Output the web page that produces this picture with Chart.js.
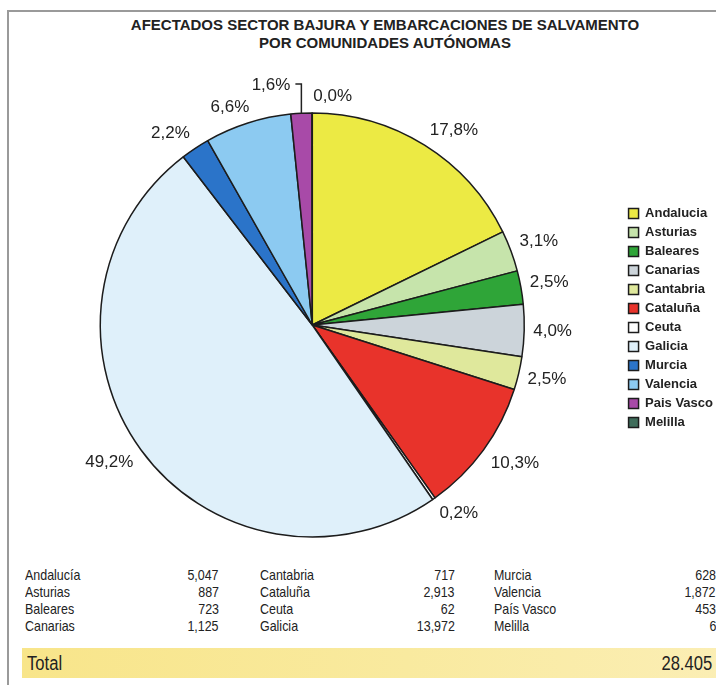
<!DOCTYPE html>
<html>
<head>
<meta charset="utf-8">
<script src="https://cdn.jsdelivr.net/npm/chart.js@4/dist/chart.umd.min.js"></script>
<style>
  html, body { margin: 0; padding: 0; overflow: hidden; background: #fff; }
  #page { position: relative; width: 716px; height: 685px; overflow: hidden; color: #222; }
  #frame { position: absolute; left: 7px; top: 10px; width: 760px; height: 720px;
           border-top: 2px solid #9a9a9a; border-left: 2px solid #9a9a9a; }
  #title { position: absolute; left: 0; top: 16px; width: 770px; text-align: center;
           font: bold 15px "Liberation Sans", Arial, sans-serif; line-height: 18px; }
  #grafico { position: absolute; left: 0; top: 0; }
  .col { position: absolute; top: 566px; font: 15px "Liberation Sans", Arial, sans-serif; line-height: 17px; }
  .fila { position: relative; height: 17px; }
  .n, .v { display: inline-block; transform: scaleX(0.83); white-space: nowrap; }
  .n { position: absolute; left: 0; top: 0; transform-origin: left center; }
  .v { position: absolute; right: 0; top: 0; transform-origin: right center; }
  #total { position: absolute; left: 22px; top: 648px; width: 700px; height: 30px;
           background: linear-gradient(to right, #f8e58a, #f9ea9f 55%, #fbeeb4);
           font: 20px "Liberation Sans", Arial, sans-serif; line-height: 30px; }
  #total .n { left: 5px; }
  #total .v { right: 10px; }
</style>
</head>
<body>
<div id="page">
  <div id="frame"></div>
  <div id="title">AFECTADOS SECTOR BAJURA Y EMBARCACIONES DE SALVAMENTO<br>POR COMUNIDADES AUTÓNOMAS</div>
  <canvas id="grafico" width="723" height="548"></canvas>
  <div id="tabla"></div>
  <div id="total"><span class="n">Total</span><span class="v" id="totalValor"></span></div>
</div>
<script>
const categorias = ["Andalucía", "Asturias", "Baleares", "Canarias", "Cantabria", "Cataluña",
  "Ceuta", "Galicia", "Murcia", "Valencia", "País Vasco", "Melilla"];
const nombresLeyenda = ["Andalucia", "Asturias", "Baleares", "Canarias", "Cantabria", "Cataluña",
  "Ceuta", "Galicia", "Murcia", "Valencia", "Pais Vasco", "Melilla"];
const afectados = [5047, 887, 723, 1125, 717, 2913, 62, 13972, 628, 1872, 453, 6];
const colores = ["#ecea44", "#c6e4ab", "#2fa538", "#ccd4da", "#dfe89c", "#e8332b",
  "#ffffff", "#dff0fa", "#2b74c9", "#8ccaf1", "#a84aa8", "#3f6d5b"];

const total = afectados.reduce((a, b) => a + b, 0);

// tabla inferior: tres columnas de cuatro filas
const columnas = [
  { left: 25, width: 194 },
  { left: 260, width: 195 },
  { left: 494, width: 222 }
];
const tabla = document.getElementById("tabla");
columnas.forEach((c, k) => {
  const col = document.createElement("div");
  col.className = "col";
  col.style.left = c.left + "px";
  col.style.width = c.width + "px";
  for (let i = k * 4; i < k * 4 + 4; i++) {
    const fila = document.createElement("div");
    fila.className = "fila";
    fila.innerHTML = "<span class='n'>" + categorias[i] + "</span><span class='v'>" +
      afectados[i].toLocaleString("en-US") + "</span>";
    col.appendChild(fila);
  }
  tabla.appendChild(col);
});
document.getElementById("totalValor").textContent = total.toLocaleString("de-DE");

// porcentajes fuera de cada sector, la esquina mas cercana apoyada cerca del borde
const etiquetas = {
  id: "etiquetas",
  afterDatasetsDraw(chart) {
    const ctx = chart.ctx;
    const meta = chart.getDatasetMeta(0);
    const clamp = v => Math.max(-1, Math.min(1, v));
    ctx.save();
    ctx.font = '17px "Liberation Sans", Arial, sans-serif';
    ctx.fillStyle = "#222";
    ctx.strokeStyle = "#222";
    ctx.lineWidth = 1.5;
    ctx.textBaseline = "middle";
    meta.data.forEach((arc, i) => {
      const p = arc.getProps(["x", "y", "startAngle", "endAngle", "outerRadius"], true);
      const mid = (p.startAngle + p.endAngle) / 2;
      const txt = (afectados[i] / total * 100).toFixed(1).replace(".", ",") + "%";
      if (categorias[i] === "País Vasco") {
        const ex = p.x + p.outerRadius * Math.cos(mid);
        const ey = p.y + p.outerRadius * Math.sin(mid);
        const top = p.y - p.outerRadius - 29;
        ctx.beginPath();
        ctx.moveTo(ex, ey);
        ctx.lineTo(ex, top);
        ctx.lineTo(ex - 6, top);
        ctx.stroke();
        ctx.textAlign = "right";
        ctx.fillText(txt, ex - 11, top + 1);
      } else if (categorias[i] === "Melilla") {
        ctx.textAlign = "left";
        ctx.fillText(txt, p.x + 1, p.y - p.outerRadius - 17);
      } else {
        const d = p.outerRadius + 8;
        const c = Math.cos(mid), s = Math.sin(mid);
        const hw = ctx.measureText(txt).width / 2 + 1;
        const hh = 8;
        ctx.textAlign = "center";
        ctx.fillText(txt, p.x + d * c + hw * clamp(c * 2.5), p.y + d * s + hh * clamp(s * 2.5));
      }
    });
    ctx.restore();
  }
};

const ctx = document.getElementById("grafico").getContext("2d");
new Chart(ctx, {
  type: "pie",
  data: {
    labels: nombresLeyenda,
    datasets: [{
      data: afectados,
      backgroundColor: colores,
      borderColor: "#1c1c1c",
      borderWidth: 1.5,
      radius: 212,
      hoverOffset: 0
    }]
  },
  options: {
    responsive: false,
    animation: false,
    layout: { padding: { left: 2, top: 102, right: 0, bottom: 0 } },
    plugins: {
      tooltip: { enabled: false },
      title: { display: false },
      legend: {
        position: "right",
        align: "start",
        title: { display: true, text: "", font: { size: 10, lineHeight: 1 }, padding: { top: 89, bottom: 0 } },
        labels: {
          boxWidth: 10,
          boxHeight: 10,
          padding: 6,
          color: "#222",
          font: { family: '"Liberation Sans", Arial, sans-serif', size: 13, weight: "bold" }
        }
      }
    }
  },
  plugins: [etiquetas]
});
</script>
</body>
</html>
